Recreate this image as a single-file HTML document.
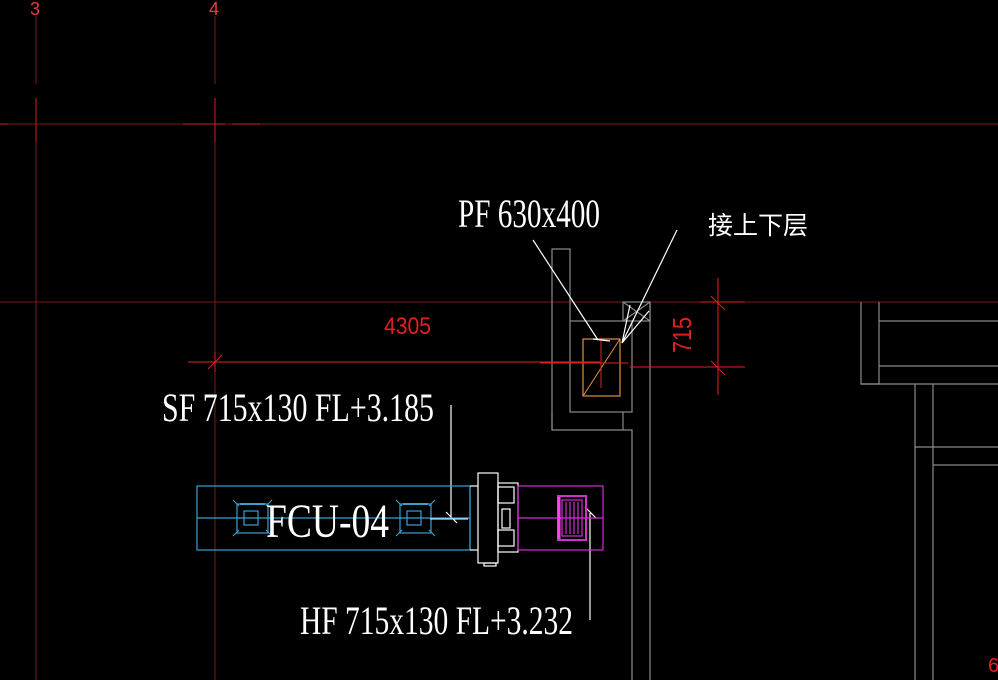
<!DOCTYPE html>
<html><head><meta charset="utf-8"><style>html,body{margin:0;padding:0;background:#000;}svg{display:block}</style></head>
<body>
<svg width="998" height="680" viewBox="0 0 998 680" xmlns="http://www.w3.org/2000/svg">
<rect width="998" height="680" fill="#000"/>
<g stroke="#7a1a1a" stroke-width="1">
<line x1="36" y1="16" x2="36" y2="84"/><line x1="36" y1="98" x2="36" y2="680"/>
<line x1="215" y1="16" x2="215" y2="84"/><line x1="215" y1="98" x2="215" y2="680"/>
<line x1="0" y1="124" x2="998" y2="124"/>
<line x1="0" y1="302" x2="998" y2="302"/>
</g>
<g stroke="#d02020" stroke-width="1">
<line x1="36" y1="98" x2="36" y2="142"/><line x1="215" y1="98" x2="215" y2="142"/>
<line x1="0" y1="124" x2="8" y2="124"/><line x1="183" y1="124" x2="225" y2="124"/><line x1="232" y1="124" x2="260" y2="124"/>
</g>
<text x="30" y="15" fill="#e04040" font-family="Liberation Sans,sans-serif" font-size="18">3</text>
<text x="209" y="15" fill="#e04040" font-family="Liberation Sans,sans-serif" font-size="18">4</text>
<g stroke="#8a8a8a" stroke-width="1.2" fill="none">
<polyline points="552,430 552,249 570,249 570,321"/>
<rect x="570" y="321" width="62" height="91"/>
<polyline points="552,412 552,430 632,430 632,680"/>
<line x1="623" y1="412" x2="623" y2="430"/>
<line x1="650" y1="302" x2="650" y2="680"/>
<rect x="623" y="302" width="27" height="19"/>
<line x1="623" y1="302" x2="650" y2="321"/><line x1="650" y1="302" x2="623" y2="321"/>
<polyline points="861,302 861,384 879,384 879,302"/>
<line x1="879" y1="321" x2="998" y2="321"/><line x1="879" y1="366" x2="998" y2="366"/>
<line x1="861" y1="384" x2="998" y2="384"/>
<line x1="915" y1="384" x2="915" y2="680"/><line x1="933" y1="384" x2="933" y2="680"/>
<line x1="915" y1="447" x2="998" y2="447"/><line x1="933" y1="465" x2="998" y2="465"/>
</g>
<rect x="583" y="339" width="37" height="57" fill="none" stroke="#e09040" stroke-width="1.2"/>
<line x1="583" y1="396" x2="620" y2="339" stroke="#e09040" stroke-width="1"/>
<g stroke="#e02020" stroke-width="1">
<line x1="601" y1="340" x2="601" y2="388"/>
<line x1="540" y1="363" x2="628" y2="363"/>
<line x1="188" y1="362" x2="600" y2="362"/>
<line x1="215" y1="352" x2="215" y2="372"/>
<line x1="208" y1="369" x2="222" y2="355"/>
<line x1="718" y1="278" x2="718" y2="395"/>
<line x1="630" y1="367" x2="745" y2="367"/>
<line x1="700" y1="302" x2="745" y2="302"/>
<line x1="711" y1="296" x2="725" y2="310"/>
<line x1="711" y1="361" x2="725" y2="375"/>
</g>
<text x="384" y="334" fill="#e02020" font-family="Liberation Sans,sans-serif" font-size="24" textLength="47" lengthAdjust="spacingAndGlyphs">4305</text>
<text transform="translate(691,353) rotate(-90)" fill="#e02020" font-family="Liberation Sans,sans-serif" font-size="26" textLength="36" lengthAdjust="spacingAndGlyphs">715</text>
<g stroke="#fff" stroke-width="1.2">
<line x1="533" y1="240" x2="598" y2="340"/>
<line x1="593" y1="339" x2="610" y2="341"/>
<line x1="677" y1="230" x2="622" y2="343"/>
<line x1="622" y1="343" x2="649" y2="311"/>
<line x1="622" y1="343" x2="630" y2="305"/>
<line x1="451" y1="405" x2="451" y2="519"/>
<line x1="446" y1="512" x2="457" y2="523"/>
<line x1="590" y1="513" x2="590" y2="620"/>
<line x1="585" y1="507" x2="596" y2="518"/>
</g>
<g stroke="#3aa0d0" stroke-width="1.2" fill="none">
<rect x="197" y="486" width="273" height="64"/>
<line x1="197" y1="518" x2="470" y2="518"/>
<line x1="470" y1="486" x2="470" y2="550"/>
<rect x="237" y="504" width="31" height="29"/><rect x="244" y="511" width="14" height="14"/>
<rect x="400" y="504" width="31" height="29"/><rect x="407" y="511" width="14" height="14"/>
<path d="M233 500 l6 6 M272 500 l-6 6 M233 536 l6 -6 M272 536 l-6 -6"/>
<path d="M396 500 l6 6 M435 500 l-6 6 M396 536 l6 -6 M435 536 l-6 -6"/>
</g>
<line x1="240" y1="504" x2="265" y2="504" stroke="#3aa0d0" stroke-width="2"/>
<line x1="403" y1="504" x2="428" y2="504" stroke="#3aa0d0" stroke-width="2"/>
<line x1="430" y1="519" x2="468" y2="519" stroke="#fff" stroke-width="1"/>
<g stroke="#fff" stroke-width="1.2" fill="none">
<line x1="470" y1="486" x2="478" y2="486"/><line x1="470" y1="550" x2="478" y2="550"/>
<rect x="478" y="473" width="20" height="90"/>
<rect x="498" y="483" width="20" height="69"/>
<rect x="498" y="487" width="16" height="16"/><rect x="498" y="530" width="16" height="16"/>
<rect x="502" y="509" width="8" height="19"/>
<rect x="484" y="563" width="12" height="3"/>
</g>
<g stroke="#d030d0" stroke-width="1.2" fill="none">
<rect x="518" y="486" width="85" height="64"/>
<line x1="518" y1="518" x2="603" y2="518"/>
<rect x="558" y="496" width="28" height="44" stroke-width="2"/>
<rect x="562" y="500" width="20" height="36"/>
<path d="M566 502 v32 M570 502 v32 M574 502 v32 M578 502 v32"/>
</g>
<line x1="559" y1="497" x2="559" y2="539" stroke="#ff40ff" stroke-width="3"/>
<g fill="#fff" font-family="Liberation Serif,serif">
<text x="458" y="227" font-size="40" textLength="142" lengthAdjust="spacingAndGlyphs">PF 630x400</text>
<text x="162" y="421" font-size="40" textLength="272" lengthAdjust="spacingAndGlyphs">SF 715x130 FL+3.185</text>
<text x="300" y="634" font-size="40" textLength="273" lengthAdjust="spacingAndGlyphs">HF 715x130 FL+3.232</text>
<text x="266" y="537" font-size="48" textLength="123" lengthAdjust="spacingAndGlyphs">FCU-04</text>
</g>
<text x="708" y="234" fill="#fff" font-family="Liberation Sans,'Noto Sans CJK SC',sans-serif" font-size="25">接上下层</text>
<text x="988" y="672" fill="#e02020" font-family="Liberation Sans,sans-serif" font-size="20">6</text>
</svg>
</body></html>
